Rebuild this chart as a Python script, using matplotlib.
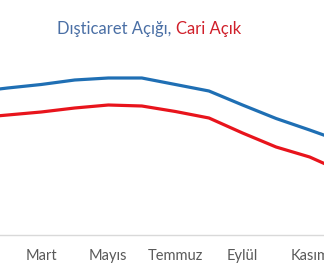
import matplotlib
matplotlib.use("Agg")
import matplotlib.pyplot as plt

plt.rcParams["font.family"] = ["Lato", "DejaVu Sans"]

# Aylar ve seriler (milyar $, resimden okunan yaklaşık değerler)
months = ["Ocak", "Şubat", "Mart", "Nisan", "Mayıs", "Haziran",
          "Temmuz", "Ağustos", "Eylül", "Ekim", "Kasım", "Aralık"]
dis_ticaret = [71.5, 73.5, 75.25, 77.5, 78.5, 78.5, 75.25, 72, 65, 58.25, 52.5, 46.5]
cari_acik = [58.5, 60, 61.5, 63.5, 65, 64.5, 61.75, 58.5, 51, 44, 39, 31.5]

W, H = 324, 267
fig = plt.figure(figsize=(W / 100, H / 100), dpi=100)

# plot area wider than the picture (the original is a crop)
left_px, right_px = -42.75, 360
bottom_px, top_px = 235, 35
ax = fig.add_axes([left_px / W, (H - bottom_px) / H,
                   (right_px - left_px) / W, (bottom_px - top_px) / H])

x = list(range(1, len(months) + 1))
ax.plot(x, dis_ticaret, color="#1F6FB4", linewidth=2.3, solid_capstyle="round")
ax.plot(x, cari_acik, color="#E8141C", linewidth=2.3, solid_capstyle="round")

ax.set_xlim(0.5, 12.5)
ax.set_ylim(0, 100)
# every other month labelled, from Mart on (Ocak falls outside the crop)
ax.set_xticks(x[2::2])
ax.set_xticklabels(months[2::2], color="#595959", fontsize=10.5)
ax.tick_params(axis="x", length=0, pad=10)
ax.set_yticks([])
for side in ["left", "right", "top"]:
    ax.spines[side].set_visible(False)
ax.spines["bottom"].set_color("#D9D9D9")
ax.spines["bottom"].set_linewidth(1)

# two-colour title
renderer = fig.canvas.get_renderer()
t1 = fig.text(57 / W, 1 - 34 / H, "Dışticaret Açığı, ", color="#4A6FA5",
              fontsize=12, ha="left", va="baseline")
w1 = t1.get_window_extent(renderer).width
fig.text((57 + w1) / W, 1 - 34 / H, "Cari Açık", color="#D01F2A",
         fontsize=12, ha="left", va="baseline")

fig.savefig("out.png", dpi=100)
